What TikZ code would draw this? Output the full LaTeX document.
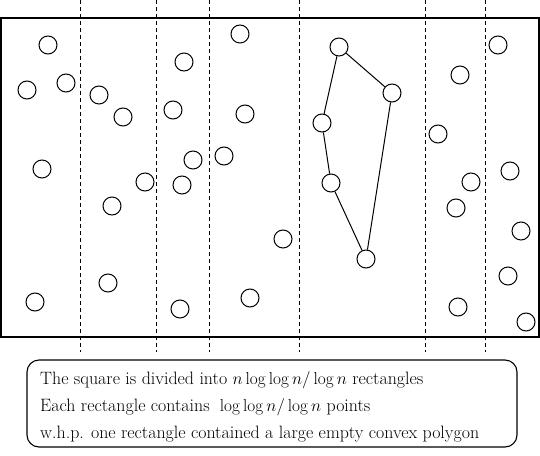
\documentclass[tikz,border=0pt]{standalone}
\usetikzlibrary{calc}
\begin{document}
\begin{tikzpicture}[x=1pt,y=-1pt,
  pt/.style={circle,draw,line width=1pt,minimum size=18pt,inner sep=0pt,fill=white},
  divline/.style={line width=1pt,dash pattern=on 4pt off 3pt},
  frame/.style={line width=1.1pt},
  edge/.style={line width=1pt},
  txt/.style={anchor=base west,inner sep=0pt,font=\fontsize{17.9}{21}\selectfont}]
\useasboundingbox (0,0) rectangle (540,455);
% divisions
\foreach \x [count=\i] in {80,156,209,299,425,485}
  \draw[divline] (\x,0) -- (\x,352);
\draw[frame] (1,18) rectangle (539,337);
% points
\foreach \px/\py [count=\i] in {48/45,27/90,66/83,99/95,123/117,42/169,112/206,145/182,
  184/62,173/110,193/160,182/185,240/34,245/114,224/156,283/239,108/283,35/302,180/309,250/298,
  460/75,438/134,471/182,456/208,498/45,510/171,521/231,508/276,458/307,526/322}
  \node[pt] (p\i) at (\px,\py) {};
% polygon
\node[pt] (a) at (339,47) {};
\node[pt] (b) at (392,93) {};
\node[pt] (c) at (366,259) {};
\node[pt] (d) at (331,183) {};
\node[pt] (e) at (322,123) {};
\draw[edge] (a) -- (b) -- (c) -- (d) -- (e) -- (a);
% text box
\node[draw,line width=1.1pt,rounded corners=12pt,minimum width=490pt,minimum height=87pt] (box) at (272,403.5) {};
\node[txt] (t1) at (40,384) {The square is divided into $n\log\log n/\log n$ rectangles};
\node[txt] (t2) at (40,411) {Each rectangle contains $\;\log\log n/\log n$ points};
\node[txt] (t3) at (40,438) {w.h.p. one rectangle contained a large empty convex polygon};
\end{tikzpicture}
\end{document}
